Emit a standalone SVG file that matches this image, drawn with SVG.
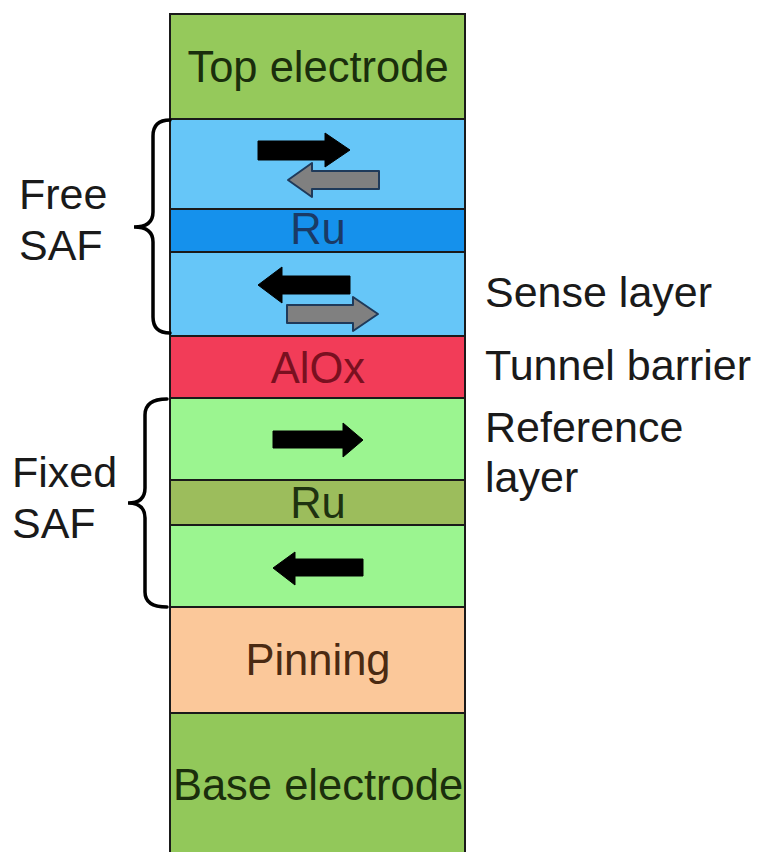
<svg xmlns="http://www.w3.org/2000/svg" width="773" height="852" viewBox="0 0 773 852">
<style>
.layer{stroke:#1a1a1a;stroke-width:2}
.t{font-family:"Liberation Sans",Arial,sans-serif;font-size:43.5px;text-anchor:middle}
.lbl{font-family:"Liberation Sans",Arial,sans-serif;font-size:43px;fill:#1a1a1a}
.blk{fill:#000;stroke:#000;stroke-width:1}
.gry{fill:#808080;stroke:#1f3a5a;stroke-width:2;stroke-linejoin:round}
.brace{fill:none;stroke:#000;stroke-width:3.5;stroke-linecap:round}
</style>
<rect width="773" height="852" fill="#fff"/>
<g id="top-electrode"><rect class="layer" x="170" y="14" width="295" height="105" fill="#95c95b"/><text class="t" x="318" y="82" fill="#1a2e0c">Top electrode</text></g>
<g id="free-layer-1"><rect class="layer" x="170" y="119" width="295" height="90" fill="#66c6f8"/>
<polygon class="blk" points="258,141 325,141 325,133 350,150 325,167 325,160 258,160"/>
<polygon class="gry" points="379,171 312,171 312,163 288,180 312,197 312,189 379,189"/></g>
<g id="free-ru"><rect class="layer" x="170" y="209" width="295" height="43" fill="#1591ec"/><text class="t" x="318" y="244" fill="#1a3a66">Ru</text></g>
<g id="free-layer-2"><rect class="layer" x="170" y="252" width="295" height="84" fill="#66c6f8"/>
<polygon class="blk" points="350,276 282,276 282,267 258,285 282,303 282,294 350,294"/>
<polygon class="gry" points="287,305 353,305 353,297 378,314 353,331 353,323 287,323"/></g>
<g id="alox"><rect class="layer" x="170" y="336" width="295" height="62" fill="#f23c58"/><text class="t" x="318" y="383" fill="#7a1020">AlOx</text></g>
<g id="ref-layer-1"><rect class="layer" x="170" y="398" width="295" height="82" fill="#9bf590"/>
<polygon class="blk" points="273,431 343,431 343,423 363,440 343,457 343,448 273,448"/></g>
<g id="fixed-ru"><rect class="layer" x="170" y="480" width="295" height="45" fill="#9cbd5c"/><text class="t" x="318" y="518" fill="#1e3210">Ru</text></g>
<g id="ref-layer-2"><rect class="layer" x="170" y="525" width="295" height="82" fill="#9bf590"/>
<polygon class="blk" points="363,559 295,559 295,552 273,568 295,585 295,576 363,576"/></g>
<g id="pinning"><rect class="layer" x="170" y="607" width="295" height="106" fill="#fbc89a"/><text class="t" x="318" y="675" fill="#4a2a12">Pinning</text></g>
<g id="base-electrode"><rect class="layer" x="170" y="713" width="295" height="150" fill="#92c85a"/><text class="t" x="318" y="800" fill="#1a2e0c">Base electrode</text></g>
<g id="connectors">
<path class="brace" d="M170,120 Q153,120 153,136 L153,212 Q153,227 134,227 Q153,227 153,242 L153,317 Q153,333 170,333"/>
<path class="brace" d="M167,399 Q145,399 145,415 L145,488 Q145,503 128,503 Q145,503 145,518 L145,592 Q145,607 167,607"/>
</g>
<g id="labels">
<text class="lbl" x="19" y="209">Free</text>
<text class="lbl" x="19" y="260">SAF</text>
<text class="lbl" x="12" y="487">Fixed</text>
<text class="lbl" x="12" y="538">SAF</text>
<text class="lbl" x="485" y="307">Sense layer</text>
<text class="lbl" x="485" y="380">Tunnel barrier</text>
<text class="lbl" x="485" y="442">Reference</text>
<text class="lbl" x="485" y="492">layer</text>
</g>
</svg>
